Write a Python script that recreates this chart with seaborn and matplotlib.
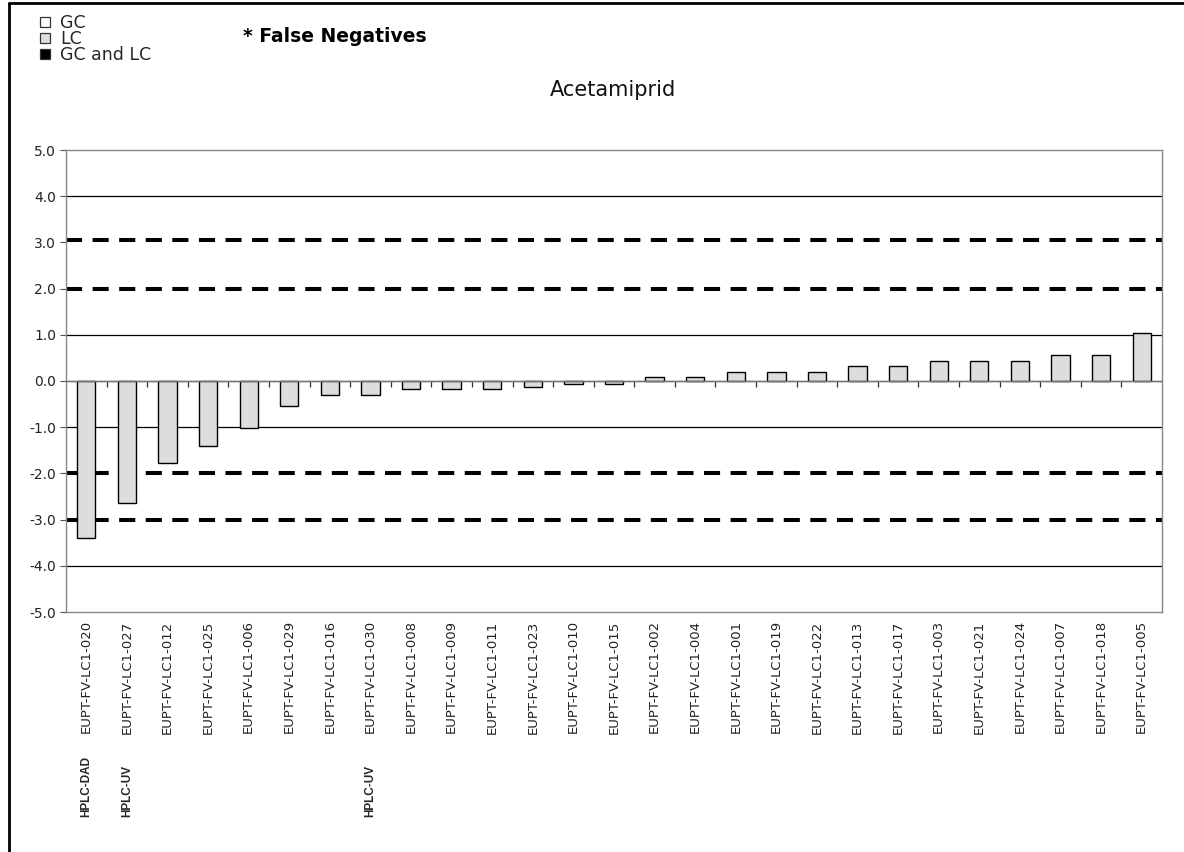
import matplotlib
matplotlib.use("Agg")
import matplotlib.pyplot as plt
import matplotlib.transforms as mtransforms
from matplotlib.lines import Line2D
import seaborn as sns
import pandas as pd

# z-scores per laboratory, sorted ascending
labs = [
    "EUPT-FV-LC1-020", "EUPT-FV-LC1-027", "EUPT-FV-LC1-012", "EUPT-FV-LC1-025",
    "EUPT-FV-LC1-006", "EUPT-FV-LC1-029", "EUPT-FV-LC1-016", "EUPT-FV-LC1-030",
    "EUPT-FV-LC1-008", "EUPT-FV-LC1-009", "EUPT-FV-LC1-011", "EUPT-FV-LC1-023",
    "EUPT-FV-LC1-010", "EUPT-FV-LC1-015", "EUPT-FV-LC1-002", "EUPT-FV-LC1-004",
    "EUPT-FV-LC1-001", "EUPT-FV-LC1-019", "EUPT-FV-LC1-022", "EUPT-FV-LC1-013",
    "EUPT-FV-LC1-017", "EUPT-FV-LC1-003", "EUPT-FV-LC1-021", "EUPT-FV-LC1-024",
    "EUPT-FV-LC1-007", "EUPT-FV-LC1-018", "EUPT-FV-LC1-005",
]
z_scores = [
    -3.40, -2.65, -1.78, -1.41, -1.02, -0.55, -0.30, -0.30,
    -0.17, -0.17, -0.17, -0.14, -0.06, -0.06, 0.09, 0.09,
    0.20, 0.20, 0.20, 0.33, 0.33, 0.44, 0.44, 0.44,
    0.57, 0.57, 1.04,
]
# detection technique notes under some laboratories
method_labs = ["EUPT-FV-LC1-020", "EUPT-FV-LC1-027", "EUPT-FV-LC1-030"]
method_names = ["HPLC-DAD", "HPLC-UV", "HPLC-UV"]

# acceptance limits
limit_values = [3.05, 2.0, -2.0, -3.0]

y_ticks = [-5.0, -4.0, -3.0, -2.0, -1.0, 0.0, 1.0, 2.0, 3.0, 4.0, 5.0]
solid_grid = [-4.0, -1.0, 1.0, 4.0]

legend_labels = ["GC", "LC", "GC and LC"]
legend_colors = ["white", "#DDDDDD", "black"]

sns.set_theme(style="white")
plt.rcParams["font.family"] = ["DejaVu Sans"]

df = pd.DataFrame({"lab": labs, "z": z_scores})

fig = plt.figure(figsize=(11.84, 8.52), dpi=100)
ax = fig.add_axes([66 / 1184, 1 - 612 / 852, (1162 - 66) / 1184, (612 - 150) / 852])

sns.barplot(data=df, x="lab", y="z", color="#DDDDDD", edgecolor="black",
            linewidth=1.0, width=0.45, saturation=1, ax=ax, zorder=3)

ax.set_xlim(-0.5, len(labs) - 0.5)
ax.set_ylim(-5, 5)
ax.set_yticks(y_ticks)
ax.set_yticklabels([f"{v:.1f}" for v in y_ticks], fontsize=10, color="#222222")
ax.set_xlabel("")
ax.set_ylabel("")

# solid gridlines
ax.yaxis.grid(True, color="black", linewidth=0.9, zorder=0)
for gl, v in zip(ax.get_ygridlines(), y_ticks):
    gl.set_visible(v in solid_grid)

# dashed limit lines
for v in limit_values:
    ax.axhline(v, color="black", linewidth=2.9, linestyle=(0, (4.0, 2.6)), zorder=2)

for side in ["left", "right", "top", "bottom"]:
    ax.spines[side].set_color("#888888")
    ax.spines[side].set_linewidth(1.0)

ax.tick_params(axis="y", which="major", direction="out", length=4, width=0.8,
               color="#555555", pad=3, left=True)
ax.tick_params(axis="x", which="major", length=0, pad=6)
plt.setp(ax.get_xticklabels(), rotation=90, fontsize=9.5, color="#222222")

# category axis crossing at zero with boundary ticks pointing down
ax.axhline(0, color="#777777", linewidth=1.0, zorder=4)
zero_axis = ax.secondary_xaxis(0.5)
zero_axis.set_xticks([i + 0.5 for i in range(len(labs) - 1)])
zero_axis.set_xticklabels([])
zero_axis.tick_params(axis="x", which="both", top=True, bottom=False,
                      direction="in", length=4.5, width=0.9, color="#333333")
for s in zero_axis.spines.values():
    s.set_color("#777777")
    s.set_linewidth(1.0)

# technique notes under the laboratory codes
trans = mtransforms.blended_transform_factory(ax.transData, fig.transFigure)
for lab, name in zip(method_labs, method_names):
    ax.text(labs.index(lab), 1 - 817 / 852, name, rotation=90, ha="center", va="bottom",
            fontsize=8.5, fontweight="bold", family="Liberation Sans", transform=trans)

# title
fig.text(613 / 1184, 1 - 90 / 852, "Acetamiprid", ha="center", va="center",
         fontsize=15, color="#111111")

# legend for analysis type
handles = [Line2D([0], [0], marker="s", linestyle="none", markersize=7,
                  markerfacecolor=c, markeredgecolor="#333333", markeredgewidth=0.9)
           for c in legend_colors]
leg = fig.legend(handles, legend_labels, loc="upper left",
                 bbox_to_anchor=(26 / 1184, 1 - 2 / 852), frameon=False,
                 fontsize=12.5, handlelength=0.8, handletextpad=0.45,
                 labelspacing=-0.12, borderpad=0.2)

fig.text(243 / 1184, 1 - 36 / 852, "* False Negatives", ha="left", va="center",
         fontsize=13.5, fontweight="bold", color="black")

# figure border on left and top
fig.add_artist(Line2D([9 / 1184, 9 / 1184], [0, 1 - 3 / 852], transform=fig.transFigure,
                      color="black", linewidth=2.0))
fig.add_artist(Line2D([9 / 1184, 1], [1 - 3 / 852, 1 - 3 / 852], transform=fig.transFigure,
                      color="black", linewidth=2.0))

fig.savefig("out.png", dpi=100, facecolor="white")
